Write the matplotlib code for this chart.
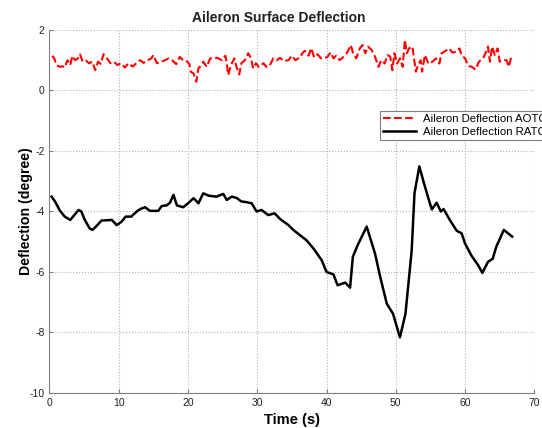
import matplotlib
matplotlib.use("Agg")
import matplotlib.pyplot as plt

plt.rcParams["font.family"] = ["Liberation Sans", "DejaVu Sans"]
plt.rcParams["axes.unicode_minus"] = False

# AOTC: red dashed, noisy around 1 deg
aotc_t = [0.4, 0.7, 1.0, 1.5, 1.9, 2.2, 2.6, 3.0, 3.3, 3.7, 4.1, 4.4, 4.8, 5.3, 5.7,
          6.2, 6.6, 7.0, 7.4, 7.8, 8.3, 8.8, 9.3, 9.8, 10.3, 10.9, 11.4, 12.0, 12.6,
          13.1, 13.6, 14.0, 14.7, 15.0, 15.5, 16.1, 16.7, 17.2, 17.8, 18.3, 18.8,
          19.2, 19.7, 20.2, 20.4, 20.8, 21.2, 21.5, 21.7, 22.2, 22.7, 23.2, 23.7,
          24.2, 24.9, 25.4, 25.6, 25.8, 26.2, 26.7, 27.0, 27.4, 27.7, 28.2, 28.7,
          29.1, 29.4, 29.8, 30.2, 30.9, 31.3, 31.8, 32.3, 32.8, 33.3, 33.8, 34.5,
          35.0, 35.5, 36.1, 36.6, 36.9, 37.4, 37.8, 38.2, 38.7, 39.2, 39.7, 40.1,
          40.6, 41.0, 41.4, 41.9, 42.4, 43.0, 43.5, 43.8, 44.3, 44.8, 45.2, 45.6,
          46.0, 46.5, 47.0, 47.5, 47.9, 48.4, 48.8, 49.2, 49.5, 49.8, 50.2, 50.6,
          51.0, 51.3, 51.6, 51.9, 52.4, 52.9, 53.2, 53.6, 53.8, 54.2, 54.7, 55.3,
          55.8, 56.3, 56.6, 57.2, 57.7, 58.2, 58.7, 59.2, 59.5, 60.0, 60.5, 61.0,
          61.5, 62.0, 62.6, 63.1, 63.3, 63.6, 63.9, 64.3, 64.7, 65.0, 65.5, 66.0,
          66.3, 66.7]
aotc_v = [1.15, 1.05, 0.84, 0.78, 0.80, 0.76, 1.00, 0.84, 1.14, 1.00, 1.06, 1.20, 0.95,
          0.98, 0.90, 0.95, 0.67, 0.95, 0.88, 1.20, 1.06, 0.90, 0.95, 0.84, 0.90, 0.76,
          0.90, 0.79, 0.91, 1.00, 0.91, 0.98, 1.06, 1.17, 0.90, 0.95, 1.00, 1.06, 0.98,
          0.87, 1.11, 1.02, 1.00, 0.87, 0.62, 0.56, 0.29, 0.73, 0.78, 0.95, 0.78, 1.06,
          1.06, 1.08, 1.00, 1.15, 0.90, 0.51, 0.84, 1.06, 0.78, 0.53, 0.90, 1.00, 1.23,
          1.06, 0.73, 0.90, 0.78, 0.90, 0.78, 0.82, 1.06, 1.00, 1.08, 0.97, 1.00, 1.15,
          1.00, 1.08, 1.26, 1.31, 1.15, 1.40, 1.10, 1.20, 1.06, 1.08, 1.10, 1.26, 1.06,
          1.15, 1.00, 1.10, 1.26, 1.50, 1.26, 1.06, 1.39, 1.50, 1.23, 1.45, 1.34, 1.12,
          0.78, 1.00, 0.89, 1.17, 1.12, 0.67, 1.23, 0.89, 1.06, 0.78, 1.67, 1.23, 1.39,
          1.45, 0.62, 0.84, 1.00, 0.62, 1.17, 0.89, 0.95, 1.06, 0.89, 1.23, 1.31, 1.39,
          1.25, 1.28, 1.39, 1.17, 1.06, 0.81, 0.78, 0.69, 0.95, 1.06, 1.31, 1.45, 0.95,
          1.45, 1.17, 1.39, 0.95, 1.00, 1.00, 0.78, 1.12]

# RATC: black solid
ratc_t = [0.3, 0.8, 1.5, 2.2, 3.0, 3.4, 4.2, 4.6, 5.1, 5.8, 6.2, 6.8, 7.5, 9.0, 9.7,
          10.4, 11.0, 11.8, 12.6, 13.1, 13.8, 14.5, 15.7, 16.2, 16.9, 17.4, 17.9,
          18.4, 19.3, 20.0, 20.8, 21.5, 22.2, 23.0, 24.1, 25.1, 25.6, 26.3, 27.0,
          27.7, 28.4, 29.2, 29.9, 30.6, 31.6, 32.5, 33.3, 34.5, 35.2, 37.1, 38.1,
          39.3, 40.0, 41.0, 41.6, 42.7, 43.4, 43.8, 44.5, 45.8, 47.0, 47.7, 48.7,
          49.6, 50.6, 51.4, 52.3, 52.7, 53.4, 54.0, 54.7, 55.2, 55.9, 56.5, 56.9,
          57.8, 58.8, 59.5, 60.0, 60.9, 61.9, 62.5, 63.3, 64.0, 64.5, 65.6, 66.8]
ratc_v = [-3.51, -3.67, -3.97, -4.17, -4.28, -4.17, -3.95, -4.00, -4.28, -4.56, -4.61,
          -4.48, -4.30, -4.28, -4.45, -4.34, -4.17, -4.17, -4.00, -3.92, -3.86, -3.98,
          -3.98, -3.82, -3.80, -3.71, -3.45, -3.80, -3.86, -3.73, -3.56, -3.73, -3.40,
          -3.48, -3.51, -3.42, -3.62, -3.51, -3.55, -3.67, -3.69, -3.73, -4.00, -3.95,
          -4.12, -4.06, -4.25, -4.45, -4.61, -4.95, -5.22, -5.61, -6.00, -6.08, -6.44,
          -6.35, -6.52, -5.50, -5.11, -4.50, -5.39, -6.11, -7.05, -7.38, -8.16, -7.38,
          -5.28, -3.40, -2.51, -3.01, -3.56, -3.93, -3.71, -4.00, -3.92, -4.28, -4.64,
          -4.72, -5.06, -5.45, -5.78, -6.03, -5.67, -5.56, -5.17, -4.61, -4.83]

xticks = [0, 10, 20, 30, 40, 50, 60, 70]
yticks = [-10, -8, -6, -4, -2, 0, 2]

fig = plt.figure(figsize=(5.42, 4.28), dpi=100)
ax = fig.add_axes([0.0913, 0.0818, 0.8945, 0.8482])

ax.plot(aotc_t, aotc_v, color="red", ls="--", lw=1.5, label="Aileron Deflection AOTC")
ax.plot(ratc_t, ratc_v, color="black", ls="-", lw=1.8, label="Aileron Deflection RATC")

ax.set_xlim(0, 70)
ax.set_ylim(-10, 2)
ax.set_xticks(xticks)
ax.set_yticks(yticks)
ax.grid(True, ls=":", color="#b0b0b0", lw=0.8)
for s in ["top", "right"]:
    ax.spines[s].set_visible(False)
for s in ["left", "bottom"]:
    ax.spines[s].set_color("#808080")
ax.tick_params(direction="in", length=3, colors="#808080", labelcolor="#222222", labelsize=7.5)
ax.tick_params(axis="x", pad=3.5)

ax.set_title("Aileron Surface Deflection", fontsize=10, fontweight="bold", color="#222222",
             x=0.472, pad=6)
ax.set_xlabel("Time (s)", fontsize=10.5, fontweight="bold", labelpad=4)
ax.set_ylabel("Deflection (degree)", fontsize=10.2, fontweight="bold")
ax.yaxis.set_label_coords(-0.034, 0.5)

leg = ax.legend(loc="upper left", bbox_to_anchor=(380 / 542, 1 - 111 / 428),
                bbox_transform=fig.transFigure, fontsize=8.2, fancybox=False,
                framealpha=1, edgecolor="#808080", handlelength=2.9,
                borderpad=0.3, labelspacing=0.2, handletextpad=0.6, borderaxespad=0)
leg.get_frame().set_linewidth(0.8)

fig.savefig("out.png", dpi=100)
